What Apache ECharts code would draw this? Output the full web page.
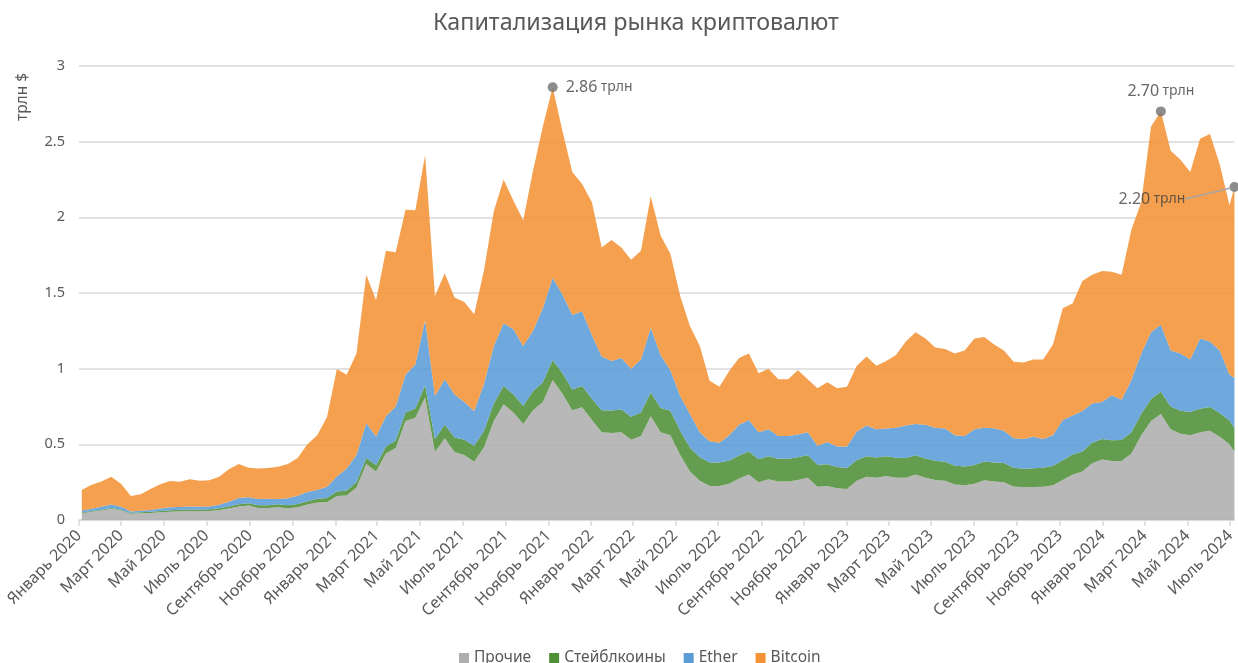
<!DOCTYPE html>
<html>
<head>
<meta charset="utf-8">
<script src="https://cdn.jsdelivr.net/npm/echarts@6/dist/echarts.min.js"></script>
<style>html,body{margin:0;padding:0;background:#fff}#c{width:1238px;height:663px}</style>
</head>
<body>
<div id="c"></div>
<script>
// Biweekly observation dates (Sundays), plus final observation
const dates = [];
for (let k = 0; k <= 117; k++) {
  const d = new Date(2020, 0, 5 + k * 14);
  dates.push(d.getFullYear() + '-' + String(d.getMonth() + 1).padStart(2, '0') + '-' + String(d.getDate()).padStart(2, '0'));
}
dates.push('2024-07-07');

const monthNames = ['Январь','Февраль','Март','Апрель','Май','Июнь','Июль','Август','Сентябрь','Октябрь','Ноябрь','Декабрь'];
const seriesNames = ['Прочие', 'Стейблкоины', 'Ether', 'Bitcoin'];
const yTicks = [0, 0.5, 1, 1.5, 2, 2.5, 3];
const axisStart = '2020-01-01';

// values, трлн $
const other = [0.044,0.055,0.063,0.075,0.062,0.041,0.044,0.047,0.052,0.055,
 0.057,0.059,0.057,0.059,0.066,0.076,0.09,0.096,0.08,0.08,
 0.085,0.078,0.084,0.102,0.116,0.118,0.158,0.162,0.215,0.37,
 0.32,0.44,0.475,0.655,0.675,0.81,0.45,0.54,0.45,0.43,
 0.385,0.48,0.655,0.765,0.71,0.635,0.725,0.78,0.925,0.835,
 0.725,0.745,0.66,0.58,0.575,0.58,0.53,0.555,0.685,0.58,
 0.56,0.43,0.32,0.26,0.225,0.225,0.24,0.275,0.3,0.25,
 0.27,0.255,0.255,0.265,0.28,0.22,0.225,0.21,0.205,0.26,
 0.286,0.28,0.29,0.28,0.28,0.3,0.28,0.265,0.26,0.235,
 0.23,0.24,0.262,0.255,0.25,0.222,0.216,0.218,0.22,0.23,
 0.265,0.3,0.32,0.375,0.4,0.39,0.39,0.44,0.56,0.655,
 0.7,0.6,0.57,0.56,0.58,0.59,0.55,0.5,0.45];
const stable = [0.005,0.005,0.005,0.005,0.006,0.006,0.007,0.007,0.008,0.009,
 0.01,0.011,0.011,0.012,0.012,0.013,0.014,0.015,0.017,0.018,
 0.019,0.02,0.021,0.022,0.024,0.027,0.03,0.033,0.035,0.04,
 0.042,0.045,0.05,0.055,0.062,0.08,0.085,0.09,0.095,0.1,
 0.105,0.11,0.115,0.12,0.12,0.12,0.125,0.13,0.132,0.135,
 0.138,0.14,0.142,0.145,0.148,0.15,0.152,0.155,0.158,0.16,
 0.162,0.16,0.158,0.155,0.155,0.155,0.153,0.152,0.152,0.151,
 0.151,0.15,0.15,0.149,0.148,0.145,0.143,0.14,0.138,0.137,
 0.135,0.133,0.132,0.131,0.13,0.128,0.127,0.126,0.125,0.124,
 0.123,0.124,0.124,0.125,0.126,0.124,0.123,0.124,0.126,0.128,
 0.13,0.132,0.133,0.135,0.136,0.137,0.138,0.14,0.142,0.145,
 0.148,0.15,0.152,0.153,0.155,0.156,0.157,0.158,0.158];
const ether = [0.014,0.014,0.02,0.023,0.02,0.009,0.01,0.012,0.016,0.021,
 0.019,0.02,0.02,0.019,0.022,0.031,0.041,0.039,0.041,0.042,
 0.034,0.045,0.055,0.061,0.058,0.075,0.1,0.145,0.18,0.23,
 0.19,0.2,0.225,0.25,0.29,0.43,0.285,0.3,0.285,0.25,
 0.23,0.31,0.38,0.415,0.43,0.395,0.4,0.49,0.543,0.52,
 0.492,0.495,0.418,0.355,0.327,0.34,0.318,0.35,0.427,0.35,
 0.268,0.23,0.222,0.165,0.14,0.13,0.167,0.203,0.208,0.179,
 0.179,0.15,0.15,0.151,0.152,0.125,0.147,0.135,0.142,0.188,
 0.204,0.187,0.183,0.199,0.215,0.207,0.223,0.219,0.22,0.201,
 0.202,0.236,0.224,0.227,0.214,0.194,0.196,0.208,0.189,0.202,
 0.265,0.258,0.267,0.26,0.244,0.298,0.267,0.345,0.398,0.44,
 0.442,0.37,0.378,0.347,0.465,0.434,0.413,0.302,0.332];
const bitcoin = [0.135,0.159,0.167,0.183,0.152,0.102,0.109,0.139,0.16,0.173,
 0.166,0.18,0.172,0.172,0.185,0.215,0.225,0.195,0.202,0.203,
 0.214,0.227,0.25,0.315,0.362,0.46,0.71,0.62,0.67,0.98,
 0.9,1.095,1.02,1.09,1.02,1.09,0.66,0.7,0.64,0.66,
 0.64,0.75,0.89,0.95,0.85,0.83,1.06,1.2,1.26,1.08,
 0.945,0.84,0.88,0.72,0.8,0.73,0.72,0.72,0.87,0.79,
 0.77,0.66,0.58,0.57,0.4,0.37,0.425,0.44,0.44,0.39,
 0.4,0.375,0.375,0.425,0.35,0.38,0.395,0.385,0.395,0.435,
 0.455,0.42,0.445,0.48,0.555,0.605,0.57,0.53,0.525,0.54,
 0.565,0.6,0.6,0.553,0.53,0.506,0.505,0.51,0.525,0.6,
 0.74,0.74,0.86,0.85,0.865,0.815,0.825,0.995,1.0,1.36,
 1.41,1.32,1.28,1.24,1.32,1.37,1.23,1.12,1.26];

function parseLocal(s) { const [y, m, d] = s.split('-').map(Number); return new Date(y, m - 1, d).getTime(); }
const tMin = parseLocal(axisStart);
const tMax = parseLocal(dates[dates.length - 1]);
// tick positions: 1st of every other month
const tickValues = [];
for (let y = 2020; y <= 2024; y++) for (let m = 0; m < 12; m += 2) {
  const t = new Date(y, m, 1).getTime();
  if (t <= tMax) tickValues.push(t);
}

const totals = other.map((v, i) => v + stable[i] + ether[i] + bitcoin[i]);
function argmaxFrom(i0, i1) { let b = i0; for (let i = i0; i <= i1; i++) if (totals[i] > totals[b]) b = i; return b; }
const last = dates.length - 1;
const split = dates.findIndex(d => d >= '2023-01-01');
const peak1 = argmaxFrom(0, split);
const peak2 = argmaxFrom(split, last);

const colors = ['#aeaeae', '#4f9037', '#5b9cd7', '#f49335'];
const arrays = [other, stable, ether, bitcoin];
const font = 'Noto Sans, sans-serif';

const areaSeries = arrays.map((arr, si) => ({
  name: seriesNames[si],
  type: 'line',
  stack: 'total',
  xAxisIndex: 0,
  symbol: 'none',
  smooth: false,
  lineStyle: { width: 0 },
  itemStyle: { color: colors[si] },
  areaStyle: { color: colors[si], opacity: 0.88 },
  data: arr.map((v, i) => [parseLocal(dates[i]), v]),
  z: 2
}));

const richLbl = {
  n: { fontFamily: font, fontSize: 16, color: '#404040' },
  u: { fontFamily: font, fontSize: 14, color: '#404040' }
};
const lbl = p => '{n|' + p.value[1].toFixed(2) + '} {u|трлн}';

const option = {
  animation: false,
  backgroundColor: '#fff',
  title: {
    text: 'Капитализация рынка криптовалют',
    left: 428,
    top: 7,
    textStyle: { fontFamily: font, fontSize: 23.3, fontWeight: 'normal', color: '#595959' }
  },
  legend: {
    data: seriesNames,
    top: 645,
    left: 454,
    icon: 'rect',
    itemWidth: 10,
    itemHeight: 10,
    itemGap: 18,
    itemTextGap: 5,
    textStyle: { fontFamily: font, fontSize: 15.5, color: '#595959' }
  },
  grid: { left: 79, right: 0, top: 66, bottom: 143, containLabel: false },
  xAxis: [{
    type: 'time',
    min: tMin,
    max: tMax,
    show: false
  }, {
    type: 'value',
    position: 'bottom',
    min: tMin,
    max: tMax,
    splitLine: { show: false },
    axisLine: { show: true, lineStyle: { color: '#d9d9d9', width: 1.5 } },
    axisTick: { show: true, length: 6, customValues: tickValues, lineStyle: { color: '#d9d9d9', width: 1.5 } },
    axisLabel: {
      rotate: 45,
      margin: 13,
      customValues: tickValues,
      fontFamily: font,
      fontSize: 16,
      color: '#595959',
      formatter: v => {
        const d = new Date(v);
        return monthNames[d.getMonth()] + ' ' + d.getFullYear();
      }
    }
  }],
  yAxis: {
    type: 'value',
    min: yTicks[0],
    max: yTicks[yTicks.length - 1],
    interval: yTicks[1] - yTicks[0],
    axisLine: { show: false },
    axisTick: { show: false },
    splitLine: { lineStyle: { color: '#d9d9d9', width: 1.5 } },
    axisLabel: { fontFamily: font, fontSize: 14.5, color: '#595959', margin: 14 }
  },
  graphic: [{
    type: 'text',
    x: 23, y: 97,
    rotation: Math.PI / 2,
    style: { text: 'трлн $', fontFamily: font, fontSize: 15.5, fill: '#595959', textAlign: 'center', textVerticalAlign: 'middle' }
  }],
  series: areaSeries.concat([
    {
      type: 'scatter',
      xAxisIndex: 0,
      symbolSize: 10,
      itemStyle: { color: '#707070' },
      z: 5,
      data: [
        { value: [parseLocal(dates[peak1]), totals[peak1]], label: { position: 'right', distance: 8 } },
        { value: [parseLocal(dates[peak2]), totals[peak2]], label: { position: 'top', distance: 7 } }
      ],
      label: { show: true, formatter: lbl, rich: richLbl }
    },
    {
      type: 'scatter',
      xAxisIndex: 0,
      symbolSize: 10,
      itemStyle: { color: '#707070' },
      z: 5,
      data: [[tMax, totals[last]]],
      label: { show: true, position: 'left', distance: 4, formatter: lbl, rich: richLbl },
      labelLayout: { dx: -40, dy: 12 },
      labelLine: { show: true, lineStyle: { color: '#a6a6a6', width: 1.5 } }
    }
  ])
};
const chart = echarts.init(document.getElementById('c'), null, { renderer: 'canvas' });
chart.setOption(option);
</script>
</body>
</html>
